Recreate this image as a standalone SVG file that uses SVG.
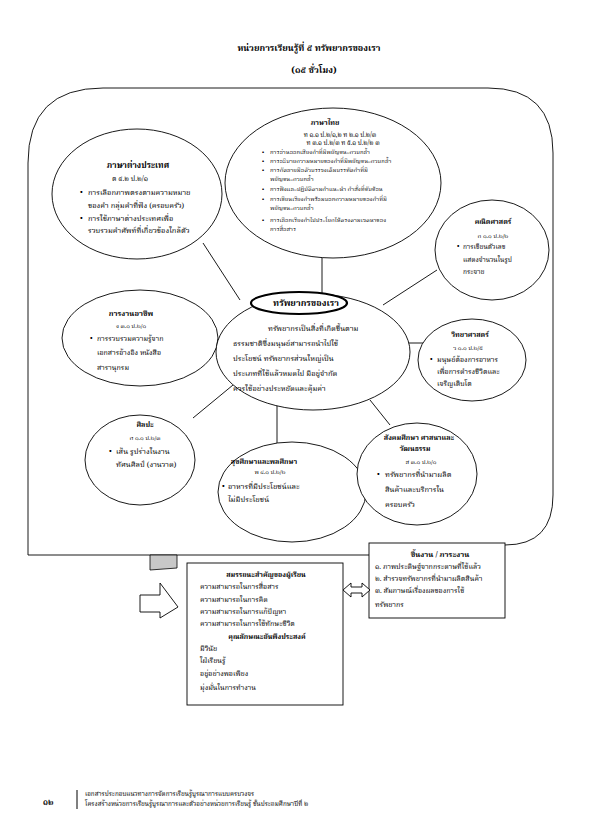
<svg xmlns="http://www.w3.org/2000/svg" width="595" height="836" viewBox="0 0 595 836">
<style>
text{font-family:'Noto Serif Thai','Noto Sans Thai Looped','Noto Sans Thai','Noto Sans',sans-serif;fill:#000}
.t{font-size:9px;font-weight:bold;text-anchor:middle}
.h{font-size:7px;font-weight:bold;text-anchor:middle}
.h8{font-size:8.3px;font-weight:bold;text-anchor:middle}
.c{font-size:6px;text-anchor:middle}
.c7{font-size:7px;text-anchor:middle}
.ct{font-size:6.3px;text-anchor:middle}
.b{font-size:7.5px}
.b7{font-size:7.1px}
.bs{font-size:5.9px}
.bm{font-size:6.6px}
.bc{font-size:7.5px}
.f{font-size:6.3px}
.e{fill:#fff;stroke:#000;stroke-width:0.9}
.ln{stroke:#000;stroke-width:0.9;fill:none}
.box{fill:#fff;stroke:#000;stroke-width:0.9}
</style>
<rect width="595" height="836" fill="#fff"/>
<text class="t" x="309" y="51">หน่วยการเรียนรู้ที่ ๕ ทรัพยากรของเรา</text>
<text class="t" x="314" y="73">(๑๕ ชั่วโมง)</text>

<g id="frame">
<path class="ln" d="M28 555 V163 Q28 88 103 88 H488 Q553 88 553 153 V495 Q553 545 505 545"/>
<path class="ln" d="M28 555 H370"/>
</g>

<g id="connectors" class="ln">
<line x1="322" y1="257" x2="322" y2="296"/>
<line x1="203" y1="243" x2="240" y2="300"/>
<line x1="437" y1="270" x2="383" y2="305"/>
<line x1="217" y1="340" x2="222" y2="340"/>
<line x1="404" y1="343" x2="423" y2="343"/>
<line x1="193" y1="418" x2="233" y2="385"/>
<line x1="277" y1="405" x2="277" y2="445"/>
<line x1="370" y1="400" x2="390" y2="425"/>
</g>

<g id="n-thai">
<ellipse class="e" cx="333" cy="183" rx="108" ry="75"/>
<text class="h" x="325" y="125">ภาษาไทย</text>
<text class="ct" x="340" y="136.5">ท ๑.๑ ป.๒/๑,๒ ท ๒.๑ ป.๒/๓</text>
<text class="ct" x="343" y="145">ท ๓.๑ ป.๒/๓ ท ๕.๑ ป.๒/๒ ๓</text>
<text class="bs" x="262" y="154">•</text>
<text class="bs" x="270" y="154">การอ่านออกเสียงคำที่มีพยัญชนะควบกล้ำ</text>
<text class="bs" x="262" y="163">•</text>
<text class="bs" x="270" y="163">การอธิบายความหมายของคำที่มีพยัญชนะควบกล้ำ</text>
<text class="bs" x="262" y="172">•</text>
<text class="bs" x="270" y="172">การคัดลายมือตัวบรรจงเต็มบรรทัดคำที่มี</text>
<text class="bs" x="270" y="181">พยัญชนะควบกล้ำ</text>
<text class="bs" x="262" y="191">•</text>
<text class="bs" x="270" y="191">การฟังและปฏิบัติตามคำแนะนำ คำสั่งที่ซับซ้อน</text>
<text class="bs" x="262" y="200.5">•</text>
<text class="bs" x="270" y="200.5">การเขียนเรียงคำพร้อมบอกความหมายของคำที่มี</text>
<text class="bs" x="270" y="209.5">พยัญชนะควบกล้ำ</text>
<text class="bs" x="262" y="222">•</text>
<text class="bs" x="270" y="222">การเลือกเรียงคำไปประโยคให้ตรงตามเจตนาของ</text>
<text class="bs" x="270" y="231">การสื่อสาร</text>
</g>

<g id="n-foreign">
<ellipse class="e" cx="137" cy="194" rx="85" ry="65"/>
<text class="h8" x="138" y="168">ภาษาต่างประเทศ</text>
<text class="c7" x="130" y="181">ต ๔.๒ ป.๒/๑</text>
<text class="b" x="80" y="195">•</text>
<text class="b" x="88" y="195">การเลือกภาพตรงตามความหมาย</text>
<text class="b" x="88" y="208">ของคำ กลุ่มคำที่ฟัง (ครอบครัว)</text>
<text class="b" x="80" y="221">•</text>
<text class="b" x="88" y="221">การใช้ภาษาต่างประเทศเพื่อ</text>
<text class="b" x="88" y="233">รวบรวมคำศัพท์ที่เกี่ยวข้องใกล้ตัว</text>
</g>

<g id="n-math">
<ellipse class="e" cx="492" cy="250" rx="57" ry="50"/>
<text class="h" x="493" y="224">คณิตศาสตร์</text>
<text class="c" x="493" y="238">ค ๑.๑ ป.๒/๒</text>
<text class="bm" x="457" y="249">•</text>
<text class="bm" x="463" y="249">การเขียนตัวเลข</text>
<text class="bm" x="463" y="262">แสดงจำนวนในรูป</text>
<text class="bm" x="463" y="274">กระจาย</text>
</g>

<g id="n-career">
<ellipse class="e" cx="140" cy="338" rx="78" ry="48"/>
<text class="h" x="131" y="316" style="font-size:7.6px">การงานอาชีพ</text>
<text class="c" x="131" y="328">ง ๓.๑ ป.๒/๑</text>
<text class="b7" x="90" y="341">•</text>
<text class="b7" x="97" y="341">การรวบรวมความรู้จาก</text>
<text class="b7" x="97" y="355">เอกสารอ้างอิง หนังสือ</text>
<text class="b7" x="97" y="370">สารานุกรม</text>
</g>

<g id="n-science">
<ellipse class="e" cx="472" cy="360" rx="54" ry="41"/>
<text class="h" x="470" y="337">วิทยาศาสตร์</text>
<text class="c" x="468" y="350">ว ๑.๑ ป.๒/๕</text>
<text class="b7" x="430" y="362">•</text>
<text class="b7" x="437" y="362">มนุษย์ต้องการอาหาร</text>
<text class="b7" x="437" y="374">เพื่อการดำรงชีวิตและ</text>
<text class="b7" x="437" y="386">เจริญเติบโต</text>
</g>

<g id="n-center">
<ellipse class="e" cx="313" cy="352" rx="97" ry="58"/>
<ellipse cx="299" cy="303" rx="48" ry="11" fill="#fff" stroke="#000" stroke-width="2.2"/>
<text class="h" x="306" y="306" style="font-size:9px">ทรัพยากรของเรา</text>
<text class="bc" x="268" y="331">ทรัพยากรเป็นสิ่งที่เกิดขึ้นตาม</text>
<text class="bc" x="233" y="346">ธรรมชาติซึ่งมนุษย์สามารถนำไปใช้</text>
<text class="bc" x="233" y="361">ประโยชน์ ทรัพยากรส่วนใหญ่เป็น</text>
<text class="bc" x="233" y="376">ประเภทที่ใช้แล้วหมดไป  มีอยู่จำกัด</text>
<text class="bc" x="233" y="391">ควรใช้อย่างประหยัดและคุ้มค่า</text>
</g>

<g id="n-art">
<ellipse class="e" cx="140" cy="460" rx="55" ry="45"/>
<text class="h" x="145" y="427">ศิลปะ</text>
<text class="c" x="145" y="440">ศ ๑.๑ ป.๒/๓</text>
<text class="b" x="109" y="454">•</text>
<text class="b" x="116" y="454">เส้น รูปร่างในงาน</text>
<text class="b" x="116" y="467">ทัศนศิลป์ (งานวาด)</text>
</g>

<g id="n-health">
<ellipse class="e" cx="292" cy="492" rx="74" ry="50"/>
<text class="h" x="264" y="464">สุขศึกษาและพลศึกษา</text>
<text class="c" x="270" y="474">พ ๔.๑ ป.๒/๒</text>
<text class="b" x="222" y="489">•</text>
<text class="b" x="228" y="489">อาหารที่มีประโยชน์และ</text>
<text class="b" x="228" y="502">ไม่มีประโยชน์</text>
</g>

<g id="n-social">
<ellipse class="e" cx="417" cy="474" rx="60" ry="51"/>
<text class="h" x="419" y="440">สังคมศึกษา ศาสนาและ</text>
<text class="h" x="415" y="451">วัฒนธรรม</text>
<text class="c" x="421" y="464">ส ๓.๑ ป.๒/๑</text>
<text class="b" x="377" y="477">•</text>
<text class="b" x="385" y="477">ทรัพยากรที่นำมาผลิต</text>
<text class="b" x="385" y="492">สินค้าและบริการใน</text>
<text class="b" x="385" y="507">ครอบครัว</text>
</g>

<g id="n-work">
<rect class="box" x="369" y="543" width="136" height="75"/>
<text class="h" x="440" y="557" style="font-size:7.6px">ชิ้นงาน / ภาระงาน</text>
<text class="b7" x="375" y="569">๑. ภาพประดิษฐ์จากกระดาษที่ใช้แล้ว</text>
<text class="b7" x="375" y="581">๒. สำรวจทรัพยากรที่นำมาผลิตสินค้า</text>
<text class="b7" x="375" y="593">๓. สัมภาษณ์เรื่องผลของการใช้</text>
<text class="b7" x="375" y="607">ทรัพยากร</text>
</g>

<g id="n-competency">
<rect class="box" x="187" y="563" width="156" height="142"/>
<text class="h" x="266" y="577">สมรรถนะสำคัญของผู้เรียน</text>
<text class="b7" x="200" y="589">ความสามารถในการสื่อสาร</text>
<text class="b7" x="200" y="602">ความสามารถในการคิด</text>
<text class="b7" x="200" y="614">ความสามารถในการแก้ปัญหา</text>
<text class="b7" x="200" y="626">ความสามารถในการใช้ทักษะชีวิต</text>
<text class="h" x="267" y="639">คุณลักษณะอันพึงประสงค์</text>
<text class="b7" x="200" y="651">มีวินัย</text>
<text class="b7" x="200" y="663">ใฝ่เรียนรู้</text>
<text class="b7" x="200" y="676">อยู่อย่างพอเพียง</text>
<text class="b7" x="200" y="690">มุ่งมั่นในการทำงาน</text>
</g>

<g id="arrows">
<path class="box" d="M343 590 L351 583 V587 H362 V583 L370 590 L362 597 V593 H351 V597 Z"/>
<path class="box" d="M140 595 H160 V583 L178 607 L160 618 V612 H140 Z"/>
<path d="M150 555 H177 V568 L150 570 Z" fill="#c8c8c8" stroke="#000" stroke-width="0.8"/>
</g>

<g id="footer">
<text x="43" y="805" style="font-size:8px;font-weight:bold">๑๒</text>
<line x1="77" y1="790" x2="77" y2="809" stroke="#000" stroke-width="1"/>
<text class="f" x="85" y="796">เอกสารประกอบแนวทางการจัดการเรียนรู้บูรณาการแบบครบวงจร</text>
<text class="f" x="85" y="806">โครงสร้างหน่วยการเรียนรู้บูรณาการและตัวอย่างหน่วยการเรียนรู้ ชั้นประถมศึกษาปีที่ ๒</text>
</g>
</svg>
